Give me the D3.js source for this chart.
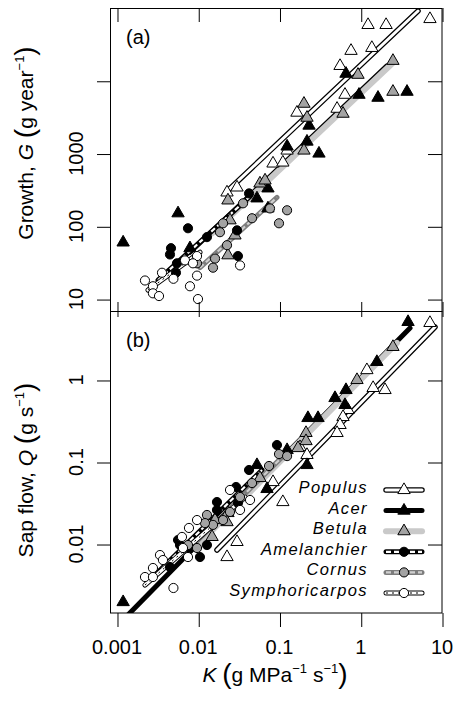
<!DOCTYPE html>
<html>
<head>
<meta charset="utf-8">
<script src="https://cdn.jsdelivr.net/npm/d3@7"></script>
<style>
  body { margin: 0; background: #fff; }
  text { font-family: "Liberation Sans", Arial, Helvetica, sans-serif; fill: #000; }
</style>
</head>
<body>
<svg id="chart" width="453" height="701"></svg>
<script>
// ---- Species (legend order) ----
const species = ["Populus", "Acer", "Betula", "Amelanchier", "Cornus", "Symphoricarpos"];

// ---- Panel (a): growth G (g year^-1) against K (g MPa^-1 s^-1) ----
const growthK_Populus = [1.23, 2.05, 7.11, 0.759, 1.37, 0.556, 0.640, 0.511, 0.164, 0.124, 0.0832, 0.110, 0.0300, 0.0226];
const growthG_Populus = [58500, 58500, 70600, 25800, 28300, 16000, 6430, 4130, 3650, 1100, 730, 753, 342, 292];
const growthK_Acer = [0.658, 0.951, 1.63, 3.71, 0.231, 0.124, 0.218, 0.306, 0.0528, 0.0721, 0.0721, 0.00564, 0.00119, 0.00791];
const growthG_Acer = [12500, 6430, 5850, 7070, 2420, 1250, 1460, 1000, 242, 332, 176, 151, 60, 50];
const growthK_Betula = [2.49, 0.925, 2.49, 0.605, 0.200, 0.218, 0.200, 0.0575, 0.0664, 0.0232, 0.0246, 0.0283, 0.0232];
const growthG_Betula = [18800, 12100, 7070, 3530, 4840, 3110, 1100, 388, 427, 227, 121, 75, 40];
const growthK_Amelanchier = [0.0422, 0.00748, 0.0128, 0.0300, 0.00462, 0.00449, 0.00547, 0.00532, 0.0308];
const growthG_Amelanchier = [283, 94, 71, 88, 50, 41, 31, 23, 39];
const growthK_Cornus = [0.0356, 0.0764, 0.124, 0.0986, 0.0459, 0.0202, 0.0185, 0.0226, 0.0161, 0.0152, 0.00966];
const growthG_Cornus = [207, 176, 166, 110, 129, 110, 83, 55, 36, 27, 31];
const growthK_Symphoricarpos = [0.00966, 0.00687, 0.00861, 0.00358, 0.00495, 0.00966, 0.00221, 0.00277, 0.00277, 0.00329, 0.00791, 0.00993, 0.0327];
const growthG_Symphoricarpos = [39, 34, 31, 23, 19, 21, 18, 15, 12, 11, 15, 10, 29];

// Fitted lines for panel (a), one entry per species in legend order
const growthFitK0 = [0.0232, 0.00791, 0.0148, 0.0032, 0.0105, 0.00241];
const growthFitK1 = [5.07, 2.10, 2.49, 0.0434, 0.0931, 0.0105];
const growthFitG0 = [311, 44, 80, 18.2, 27, 13.3];
const growthFitG1 = [91000, 16000, 17700, 258, 250, 44];

// ---- Panel (b): sap flow Q (g s^-1) against K ----
const flowK_Populus = [7.11, 1.19, 1.42, 1.99, 0.697, 0.605, 0.556, 0.511, 0.179, 0.218, 0.110, 0.0300, 0.0226, 0.0832];
const flowQ_Populus = [4.96, 1.32, 0.80, 0.755, 0.431, 0.354, 0.283, 0.226, 0.152, 0.122, 0.0325, 0.0106, 0.00694, 0.057];
const flowK_Acer = [3.82, 1.58, 0.658, 0.482, 0.640, 0.224, 0.298, 0.124, 0.218, 0.0702, 0.0528, 0.00119];
const flowQ_Acer = [5.1, 1.66, 0.755, 0.603, 0.496, 0.344, 0.344, 0.140, 0.0919, 0.0469, 0.0919, 0.00196];
const flowK_Betula = [2.49, 0.899, 0.212, 0.212, 0.169, 0.0575, 0.0232, 0.0226, 0.0161, 0.00748, 0.0148];
const flowQ_Betula = [2.53, 1.0, 0.226, 0.180, 0.148, 0.0638, 0.0239, 0.0185, 0.0196, 0.00919, 0.0122];
const flowK_Amelanchier = [0.0931, 0.0422, 0.0292, 0.0170, 0.0308, 0.0170, 0.00564, 0.0128, 0.00791, 0.0105, 0.00449, 0.00596];
const flowQ_Amelanchier = [0.161, 0.0799, 0.0496, 0.0325, 0.0316, 0.0260, 0.0112, 0.00972, 0.00894, 0.00694, 0.00525, 0.00972];
const flowK_Cornus = [0.0986, 0.124, 0.0743, 0.0459, 0.0246, 0.0202, 0.0128, 0.0152, 0.00966, 0.00748, 0.0121, 0.0327];
const flowQ_Cornus = [0.125, 0.118, 0.0894, 0.0554, 0.0246, 0.0196, 0.0226, 0.0171, 0.00894, 0.00972, 0.0180, 0.0374];
const flowK_Symphoricarpos = [0.0327, 0.0434, 0.00966, 0.00769, 0.00631, 0.00649, 0.00748, 0.00338, 0.00368, 0.00277, 0.00221, 0.00277, 0.00495, 0.0246];
const flowQ_Symphoricarpos = [0.0260, 0.0344, 0.0196, 0.0157, 0.0122, 0.00894, 0.00694, 0.00734, 0.00638, 0.00510, 0.00396, 0.00396, 0.00291, 0.0456];

// Fitted lines for panel (b)
const flowFitK0 = [0.0170, 0.00122, 0.00912, 0.00255, 0.00791, 0.00221];
const flowFitK1 = [8.2, 4.04, 2.79, 0.0610, 0.124, 0.0376];
const flowFitQ0 = [0.00845, 0.00122, 0.00894, 0.00364, 0.00894, 0.00316];
const flowFitQ1 = [4.43, 4.31, 2.83, 0.0799, 0.132, 0.0374];

// ---- Tick values and labels ----
const kTicks = [0.001, 0.01, 0.1, 1, 10];
const kTickLabels = ["0.001", "0.01", "0.1", "1", "10"];
const growthTicks = [10, 100, 1000, 10000];
const growthTickLabels = ["10", "100", "1000", ""];
const flowTicks = [0.01, 0.1, 1];
const flowTickLabels = ["0.01", "0.1", "1"];

// ---- Point groups assembled from the arrays above ----
const growthPoints = {
  Populus: [growthK_Populus, growthG_Populus],
  Acer: [growthK_Acer, growthG_Acer],
  Betula: [growthK_Betula, growthG_Betula],
  Amelanchier: [growthK_Amelanchier, growthG_Amelanchier],
  Cornus: [growthK_Cornus, growthG_Cornus],
  Symphoricarpos: [growthK_Symphoricarpos, growthG_Symphoricarpos]
};
const flowPoints = {
  Populus: [flowK_Populus, flowQ_Populus],
  Acer: [flowK_Acer, flowQ_Acer],
  Betula: [flowK_Betula, flowQ_Betula],
  Amelanchier: [flowK_Amelanchier, flowQ_Amelanchier],
  Cornus: [flowK_Cornus, flowQ_Cornus],
  Symphoricarpos: [flowK_Symphoricarpos, flowQ_Symphoricarpos]
};

// ---- Per-species drawing style ----
const GREY_FILL = "#a3a3a3";
const style = {
  Populus:        { shape: "tri",    fill: "#fff",   line: [{ c: "#000", w: 5.5 }, { c: "#fff", w: 3 }] },
  Acer:           { shape: "tri",    fill: "#000",   line: [{ c: "#000", w: 5 }] },
  Betula:         { shape: "tri",    fill: GREY_FILL, line: [{ c: "#c9c9c9", w: 6 }] },
  Amelanchier:    { shape: "circle", fill: "#000",   line: [{ c: "#000", w: 5 }, { c: "#fff", w: 2.2, dash: "5,3" }] },
  Cornus:         { shape: "circle", fill: GREY_FILL, line: [{ c: "#7d7d7d", w: 5 }, { c: "#cfcfcf", w: 2.2, dash: "5,3" }] },
  Symphoricarpos: { shape: "circle", fill: "#fff",   line: [{ c: "#000", w: 5 }, { c: "#fff", w: 3.2 }, { c: "#000", w: 1, dash: "2,4" }] }
};

// ---- Layout ----
const svg = d3.select("#chart");
const left = 110, right = 442;
const topA = 8, mid = 311, botB = 613;

const x = d3.scaleLog().domain([Math.pow(10, -3.086), 10]).range([left, right]);
const yA = d3.scaleLog().domain([Math.pow(10, 0.836), 1e5]).range([mid, topA]);
const yB = d3.scaleLog().domain([Math.pow(10, -2.841), Math.pow(10, 0.841)]).range([botB, mid]);

const defs = svg.append("defs");
function clip(id, y0, y1) {
  defs.append("clipPath").attr("id", id)
    .append("rect").attr("x", left).attr("y", y0).attr("width", right - left).attr("height", y1 - y0);
}
clip("clipA", topA, mid);
clip("clipB", mid, botB);

const triangle = d3.symbol().type(d3.symbolTriangle).size(66);
const circle = d3.symbol().type(d3.symbolCircle).size(66);

function drawFitLine(g, pts, st) {
  const line = d3.line().x(d => d[0]).y(d => d[1]);
  st.line.forEach((layer, i) => {
    g.append("path")
      .attr("d", line(pts))
      .attr("fill", "none")
      .attr("stroke", layer.c)
      .attr("stroke-width", layer.w)
      .attr("stroke-linecap", layer.dash ? "butt" : "round")
      .attr("stroke-dasharray", layer.dash || null);
  });
}

function drawMarker(g, cx, cy, st) {
  const path = st.shape === "tri" ? triangle() : circle();
  g.append("path")
    .attr("d", path)
    .attr("transform", `translate(${cx},${cy})`)
    .attr("fill", st.fill)
    .attr("stroke", "#000")
    .attr("stroke-width", 1);
}

function drawPanel(clipId, yScale, points, fitK0, fitK1, fitY0, fitY1) {
  const g = svg.append("g").attr("clip-path", `url(#${clipId})`);
  const lines = g.append("g");
  species.forEach((sp, i) => {
    drawFitLine(lines, [[x(fitK0[i]), yScale(fitY0[i])], [x(fitK1[i]), yScale(fitY1[i])]], style[sp]);
  });
  const pts = g.append("g");
  species.forEach(sp => {
    const [ks, vs] = points[sp];
    ks.forEach((k, j) => drawMarker(pts, x(k), yScale(vs[j]), style[sp]));
  });
}

drawPanel("clipA", yA, growthPoints, growthFitK0, growthFitK1, growthFitG0, growthFitG1);
drawPanel("clipB", yB, flowPoints, flowFitK0, flowFitK1, flowFitQ0, flowFitQ1);

// ---- Frames ----
svg.append("rect").attr("x", left + 0.5).attr("y", topA + 0.5)
  .attr("width", right - left - 0.5).attr("height", mid - topA)
  .attr("fill", "none").attr("stroke", "#000").attr("stroke-width", 1);
svg.append("rect").attr("x", left + 0.5).attr("y", mid + 0.5)
  .attr("width", right - left - 0.5).attr("height", botB - mid - 0.5)
  .attr("fill", "none").attr("stroke", "#000").attr("stroke-width", 1);

// ---- Axes (tick marks) ----
function ticksOnly(axis, tx, ty) {
  const g = svg.append("g").attr("transform", `translate(${tx},${ty})`).call(axis);
  g.select(".domain").remove();
  g.selectAll("text").remove();
  g.selectAll("line").attr("stroke", "#000").attr("stroke-width", 1);
  return g;
}
// x ticks: outside at the bottom, inside at the top, and across the shared border
ticksOnly(d3.axisBottom(x).tickValues(kTicks).tickSize(14), 0.5, botB);
ticksOnly(d3.axisBottom(x).tickValues(kTicks).tickSize(14), 0.5, topA);
ticksOnly(d3.axisBottom(x).tickValues(kTicks).tickSize(15), 0.5, mid - 9);
// y ticks: outside on the left, inside on the right
ticksOnly(d3.axisLeft(yA).tickValues(growthTicks).tickSize(13), left, 0.5);
ticksOnly(d3.axisLeft(yA).tickValues(growthTicks).tickSize(14), right, 0.5);
ticksOnly(d3.axisLeft(yB).tickValues(flowTicks).tickSize(13), left, 0.5);
ticksOnly(d3.axisLeft(yB).tickValues(flowTicks).tickSize(14), right, 0.5);

// ---- Tick labels ----
const tickFont = 20;
svg.append("g").selectAll("text").data(kTicks).join("text")
  .attr("x", d => x(d)).attr("y", 654)
  .attr("text-anchor", "middle").attr("font-size", tickFont)
  .text((d, i) => kTickLabels[i]);

function yLabels(ticks, labels, scale) {
  svg.append("g").selectAll("text").data(ticks).join("text")
    .attr("transform", d => `translate(83,${scale(d)}) rotate(-90)`)
    .attr("text-anchor", "middle").attr("font-size", tickFont)
    .text((d, i) => labels[i]);
}
yLabels(growthTicks, growthTickLabels, yA);
yLabels(flowTicks, flowTickLabels, yB);

// ---- Axis titles ----
function titleY(cx, cy, parts) {
  const t = svg.append("text")
    .attr("transform", `translate(${cx},${cy}) rotate(-90)`)
    .attr("text-anchor", "middle").attr("font-size", 21);
  parts.forEach(p => {
    const s = t.append("tspan").text(p.t);
    if (p.i) s.attr("font-style", "italic");
    if (p.fs) s.attr("font-size", p.fs);
    if (p.dy) s.attr("dy", p.dy);
  });
}
titleY(33, 143, [
  { t: "Growth, " }, { t: "G", i: true }, { t: " " },
  { t: "(", fs: 28, dy: 1 }, { t: "g year", dy: -1 },
  { t: "\u22121", fs: 13, dy: -9 }, { t: ")", fs: 28, dy: 10 }
]);
titleY(33, 470, [
  { t: "Sap flow, " }, { t: "Q", i: true }, { t: " " },
  { t: "(", fs: 28, dy: 1 }, { t: "g s", dy: -1 },
  { t: "\u22121", fs: 13, dy: -9 }, { t: ")", fs: 28, dy: 10 }
]);

const xt = svg.append("text").attr("x", 275).attr("y", 682)
  .attr("text-anchor", "middle").attr("font-size", 21);
xt.append("tspan").attr("font-style", "italic").text("K");
xt.append("tspan").text(" ");
xt.append("tspan").attr("font-size", 28).attr("dy", 1).text("(");
xt.append("tspan").attr("dy", -1).text("g MPa");
xt.append("tspan").attr("font-size", 13).attr("dy", -9).text("\u22121");
xt.append("tspan").attr("dy", 9).text(" s");
xt.append("tspan").attr("font-size", 13).attr("dy", -9).text("\u22121");
xt.append("tspan").attr("font-size", 28).attr("dy", 10).text(")");

// ---- Panel letters ----
svg.append("text").attr("x", 126).attr("y", 44).attr("font-size", 20).text("(a)");
svg.append("text").attr("x", 126).attr("y", 347).attr("font-size", 20).text("(b)");

// ---- Legend ----
const legX0 = 386, legX1 = 422, legMark = 404, legText = 368, legY0 = 490, legStep = 20.6;
species.forEach((sp, i) => {
  const yy = legY0 + i * legStep;
  const g = svg.append("g");
  drawFitLine(g, [[legX0, yy], [legX1, yy]], style[sp]);
  drawMarker(g, legMark, yy, style[sp]);
  svg.append("text")
    .attr("x", legText).attr("y", yy + 3)
    .attr("text-anchor", "end").attr("font-size", 16.5)
    .attr("font-style", "italic").attr("letter-spacing", 1.4)
    .text(sp);
});
</script>
</body>
</html>
